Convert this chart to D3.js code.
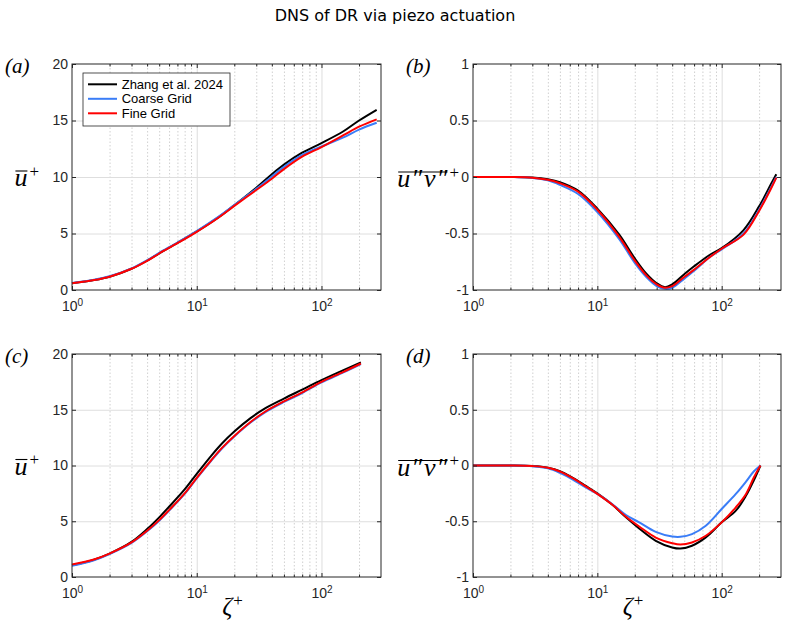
<!DOCTYPE html>
<html>
<head>
<meta charset="utf-8">
<script src="https://cdn.jsdelivr.net/npm/d3@7"></script>
<style>
  body { margin: 0; background: #fff; }
  svg { display: block; }
  .tick text { font-family: "Liberation Sans", Arial, sans-serif; font-size: 14px; fill: #262626; }
  .grid line { stroke: #dedede; stroke-width: 1; }
  .minor-grid line { stroke: #c4c4c4; stroke-width: 0.8; stroke-dasharray: 1.5 2; }
  .grid .domain, .minor-grid .domain, .ax .domain { display: none; }
  .ax line { stroke: #262626; }
  .math { font-family: "Liberation Serif", "Times New Roman", serif; font-style: italic; fill: #000; }
  .legend text { font-family: "Liberation Sans", Arial, sans-serif; font-size: 13px; fill: #000; }
</style>
</head>
<body>
<svg id="chart" width="790" height="633"></svg>
<script>
// series names + colours
const seriesNames = ['Zhang et al. 2024', 'Coarse Grid', 'Fine Grid'];
const seriesColors = ['#000000', '#3a7df7', '#ff0000'];

// axis ticks
const xMajor = [1, 10, 100];
const xMinor = [2, 3, 4, 5, 6, 7, 8, 9, 20, 30, 40, 50, 60, 70, 80, 90, 200];
const uTicks = [0, 5, 10, 15, 20];
const uvTicks = [-1, -0.5, 0, 0.5, 1];
const uvTickLabels = ['-1', '-0.5', '0', '0.5', '1'];

// (a) mean velocity, top row
const zetaA = [1, 1.5, 2, 3, 4, 5, 7, 10, 15, 20, 30, 40, 50, 70, 100, 150, 200, 277];
const zhangA = [0.6, 0.88, 1.18, 1.88, 2.6, 3.25, 4.17, 5.18, 6.45, 7.5, 9.05, 10.25, 11.1, 12.15, 13.0, 14.05, 15.0, 15.95];
const coarseA = [0.62, 0.9, 1.21, 1.91, 2.63, 3.28, 4.2, 5.22, 6.5, 7.52, 8.95, 10.05, 10.9, 11.95, 12.7, 13.5, 14.2, 14.8];
const fineA = [0.6, 0.88, 1.18, 1.88, 2.58, 3.23, 4.14, 5.15, 6.42, 7.44, 8.85, 9.85, 10.7, 11.8, 12.65, 13.7, 14.45, 15.1];

// (b) Reynolds stress, top row
const zetaB = [1, 2, 3, 4, 5, 7, 10, 15, 20, 25, 30, 35, 40, 50, 60, 80, 100, 150, 200, 250, 275];
const zhangB = [0, 0, -0.005, -0.02, -0.045, -0.12, -0.28, -0.51, -0.72, -0.86, -0.94, -0.975, -0.95, -0.86, -0.79, -0.69, -0.63, -0.47, -0.26, -0.06, 0.025];
const coarseB = [0, 0, -0.008, -0.03, -0.07, -0.15, -0.31, -0.55, -0.76, -0.89, -0.965, -0.99, -0.98, -0.9, -0.83, -0.71, -0.64, -0.5, -0.29, -0.09, 0];
const fineB = [0, 0, -0.006, -0.025, -0.055, -0.13, -0.29, -0.53, -0.74, -0.875, -0.95, -0.98, -0.965, -0.885, -0.82, -0.71, -0.635, -0.51, -0.3, -0.1, -0.005];

// (c) mean velocity, bottom row
const zetaC = [1, 1.5, 2, 3, 4, 5, 6, 8, 10, 13, 16, 20, 27, 35, 50, 70, 100, 150, 207];
const zhangC = [1.05, 1.55, 2.1, 3.15, 4.3, 5.35, 6.3, 7.85, 9.25, 10.85, 12.0, 13.05, 14.25, 15.1, 16.0, 16.8, 17.65, 18.55, 19.25];
const coarseC = [1.0, 1.5, 2.05, 3.05, 4.1, 5.05, 5.95, 7.45, 8.85, 10.4, 11.55, 12.6, 13.85, 14.75, 15.7, 16.5, 17.45, 18.35, 19.1];
const fineC = [1.12, 1.57, 2.1, 3.1, 4.15, 5.1, 6.0, 7.5, 8.9, 10.45, 11.6, 12.65, 13.9, 14.8, 15.75, 16.55, 17.5, 18.4, 19.15];

// (d) Reynolds stress, bottom row
const zetaD = [1, 2, 3, 4, 5, 6.35, 8, 10, 13.3, 17, 21.7, 29.5, 40, 46.6, 57.7, 74.5, 100, 130, 157, 181, 205];
const zhangD = [0, 0, -0.005, -0.02, -0.05, -0.11, -0.18, -0.25, -0.355, -0.465, -0.565, -0.675, -0.735, -0.745, -0.72, -0.645, -0.51, -0.405, -0.27, -0.135, 0];
const coarseD = [0, 0, -0.006, -0.025, -0.066, -0.126, -0.195, -0.255, -0.35, -0.444, -0.51, -0.595, -0.637, -0.64, -0.615, -0.54, -0.39, -0.255, -0.144, -0.054, 0];
const fineD = [0, 0, -0.005, -0.02, -0.054, -0.114, -0.185, -0.255, -0.355, -0.46, -0.547, -0.646, -0.697, -0.709, -0.69, -0.63, -0.51, -0.375, -0.255, -0.11, 0];

const svg = d3.select('#chart');

svg.append('text')
  .attr('x', 395).attr('y', 21)
  .attr('text-anchor', 'middle')
  .style('font-family', '"DejaVu Sans", sans-serif')
  .style('font-size', '16px')
  .text('DNS of DR via piezo actuation');

// label like \overline{main}^+ , right edge at xRight
function barLabel(xRight, yBase, parts) {
  const t = svg.append('text').attr('class', 'math').attr('y', yBase).style('font-size', '26px');
  const spans = parts.map(pt => t.append('tspan').attr('dx', pt.dx || 0).text(pt.s));
  t.append('tspan').attr('dx', 2).attr('dy', '-0.55em')
    .style('font-size', '17px').style('font-style', 'normal').text('+');
  const w = t.node().getComputedTextLength();
  t.attr('x', xRight - w);
  // overline across the main part
  const first = spans[0].node().getExtentOfChar(0);
  const lastNode = spans[spans.length - 1].node();
  const last = lastNode.getExtentOfChar(lastNode.getNumberOfChars() - 1);
  svg.append('line')
    .attr('x1', first.x + 1).attr('x2', last.x + last.width)
    .attr('y1', yBase - 15).attr('y2', yBase - 15)
    .attr('stroke', '#000').attr('stroke-width', 1.1);
}

function drawPanel(p) {
  const w = p.right - p.left, h = p.bottom - p.top;
  const g = svg.append('g').attr('transform', `translate(${p.left},${p.top})`);
  const x = d3.scaleLog().domain([1, 300]).range([0, w]);
  const y = d3.scaleLinear().domain([p.ticks[0], p.ticks[p.ticks.length - 1]]).range([h, 0]);

  // grids
  g.append('g').attr('class', 'minor-grid').attr('transform', `translate(0,${h})`)
    .call(d3.axisBottom(x).tickValues(xMinor).tickSize(-h).tickFormat(''));
  g.append('g').attr('class', 'grid').attr('transform', `translate(0,${h})`)
    .call(d3.axisBottom(x).tickValues([10, 100]).tickSize(-h).tickFormat(''));
  g.append('g').attr('class', 'grid')
    .call(d3.axisLeft(y).tickValues(p.ticks.slice(1, -1)).tickSize(-w).tickFormat(''));

  // curves
  const line = d3.line().x(d => x(d[0])).y(d => y(d[1])).curve(d3.curveCatmullRom.alpha(0.5));
  p.series.forEach((vals, i) => {
    g.append('path')
      .datum(p.zeta.map((z, k) => [z, vals[k]]))
      .attr('fill', 'none')
      .attr('stroke', seriesColors[i])
      .attr('stroke-width', 2)
      .attr('d', line);
  });

  // box
  g.append('rect').attr('width', w).attr('height', h)
    .attr('fill', 'none').attr('stroke', '#262626').attr('stroke-width', 1);

  // ticks (inside, matlab style)
  const bottom = g.append('g').attr('class', 'ax').attr('transform', `translate(0,${h})`)
    .call(d3.axisBottom(x).tickValues(xMajor).tickSizeInner(-4).tickSizeOuter(0).tickPadding(10.8).tickFormat(''));
  bottom.selectAll('.tick text').each(function(d) {
    const t = d3.select(this);
    t.append('tspan').text('10');
    t.append('tspan').attr('dy', '-0.45em').style('font-size', '10px').text(Math.round(Math.log10(d)));
  });
  g.append('g').attr('class', 'ax').attr('transform', `translate(0,${h})`)
    .call(d3.axisBottom(x).tickValues(xMinor).tickSizeInner(-2.5).tickSizeOuter(0).tickFormat(''));
  g.append('g').attr('class', 'ax')
    .call(d3.axisTop(x).tickValues(xMajor).tickSizeInner(-4).tickSizeOuter(0).tickFormat(''));
  g.append('g').attr('class', 'ax')
    .call(d3.axisTop(x).tickValues(xMinor).tickSizeInner(-2.5).tickSizeOuter(0).tickFormat(''));
  g.append('g').attr('class', 'ax')
    .call(d3.axisLeft(y).tickValues(p.ticks).tickSizeInner(-4).tickSizeOuter(0).tickPadding(4)
      .tickFormat((d, i) => p.labels[i]));
  g.append('g').attr('class', 'ax').attr('transform', `translate(${w},0)`)
    .call(d3.axisRight(y).tickValues(p.ticks).tickSizeInner(-4).tickSizeOuter(0).tickFormat(''));

  // panel letter
  svg.append('text').attr('class', 'math')
    .attr('x', p.left - 67).attr('y', p.top + 9)
    .style('font-size', '21px')
    .text(`(${p.letter})`);

  // y label
  const yBase = p.top + h / 2 + 9;
  if (p.kind === 'u') {
    barLabel(p.left - 35, yBase, [{ s: 'u' }]);
  } else {
    barLabel(p.left - 20, yBase + 1, [{ s: 'u' }, { s: '\u2033', dx: 1 }, { s: 'v', dx: 2 }, { s: '\u2033', dx: 1 }]);
  }

  // x label (bottom row only)
  if (p.xlabel) {
    const xl = svg.append('text').attr('class', 'math')
      .attr('x', p.left + w / 2 + 6).attr('y', p.bottom + 38)
      .attr('text-anchor', 'middle')
      .style('font-size', '25px');
    xl.append('tspan').text('\u03b6');
    xl.append('tspan').attr('dx', 1).attr('dy', '-0.55em').style('font-size', '17px').style('font-style', 'normal').text('+');
  }

  if (p.legend) {
    const lg = g.append('g').attr('class', 'legend').attr('transform', 'translate(11,9)');
    lg.append('rect').attr('width', 147).attr('height', 53)
      .attr('fill', '#fff').attr('stroke', '#262626').attr('stroke-width', 0.8);
    seriesNames.forEach((name, i) => {
      const yy = 11.3 + i * 14.5;
      lg.append('line').attr('x1', 5).attr('x2', 34).attr('y1', yy).attr('y2', yy)
        .attr('stroke', seriesColors[i]).attr('stroke-width', 2);
      lg.append('text').attr('x', 38.7).attr('y', yy).attr('dy', '0.35em').text(name);
    });
  }
}

drawPanel({ letter: 'a', left: 72, right: 381, top: 64, bottom: 290, kind: 'u',
  ticks: uTicks, labels: uTicks.map(String), zeta: zetaA, series: [zhangA, coarseA, fineA],
  legend: true });
drawPanel({ letter: 'b', left: 473, right: 781, top: 64, bottom: 290, kind: 'uv',
  ticks: uvTicks, labels: uvTickLabels, zeta: zetaB, series: [zhangB, coarseB, fineB] });
drawPanel({ letter: 'c', left: 72, right: 381, top: 354, bottom: 577, kind: 'u',
  ticks: uTicks, labels: uTicks.map(String), zeta: zetaC, series: [zhangC, coarseC, fineC],
  xlabel: true });
drawPanel({ letter: 'd', left: 473, right: 781, top: 354, bottom: 577, kind: 'uv',
  ticks: uvTicks, labels: uvTickLabels, zeta: zetaD, series: [zhangD, coarseD, fineD],
  xlabel: true });
</script>
</body>
</html>
